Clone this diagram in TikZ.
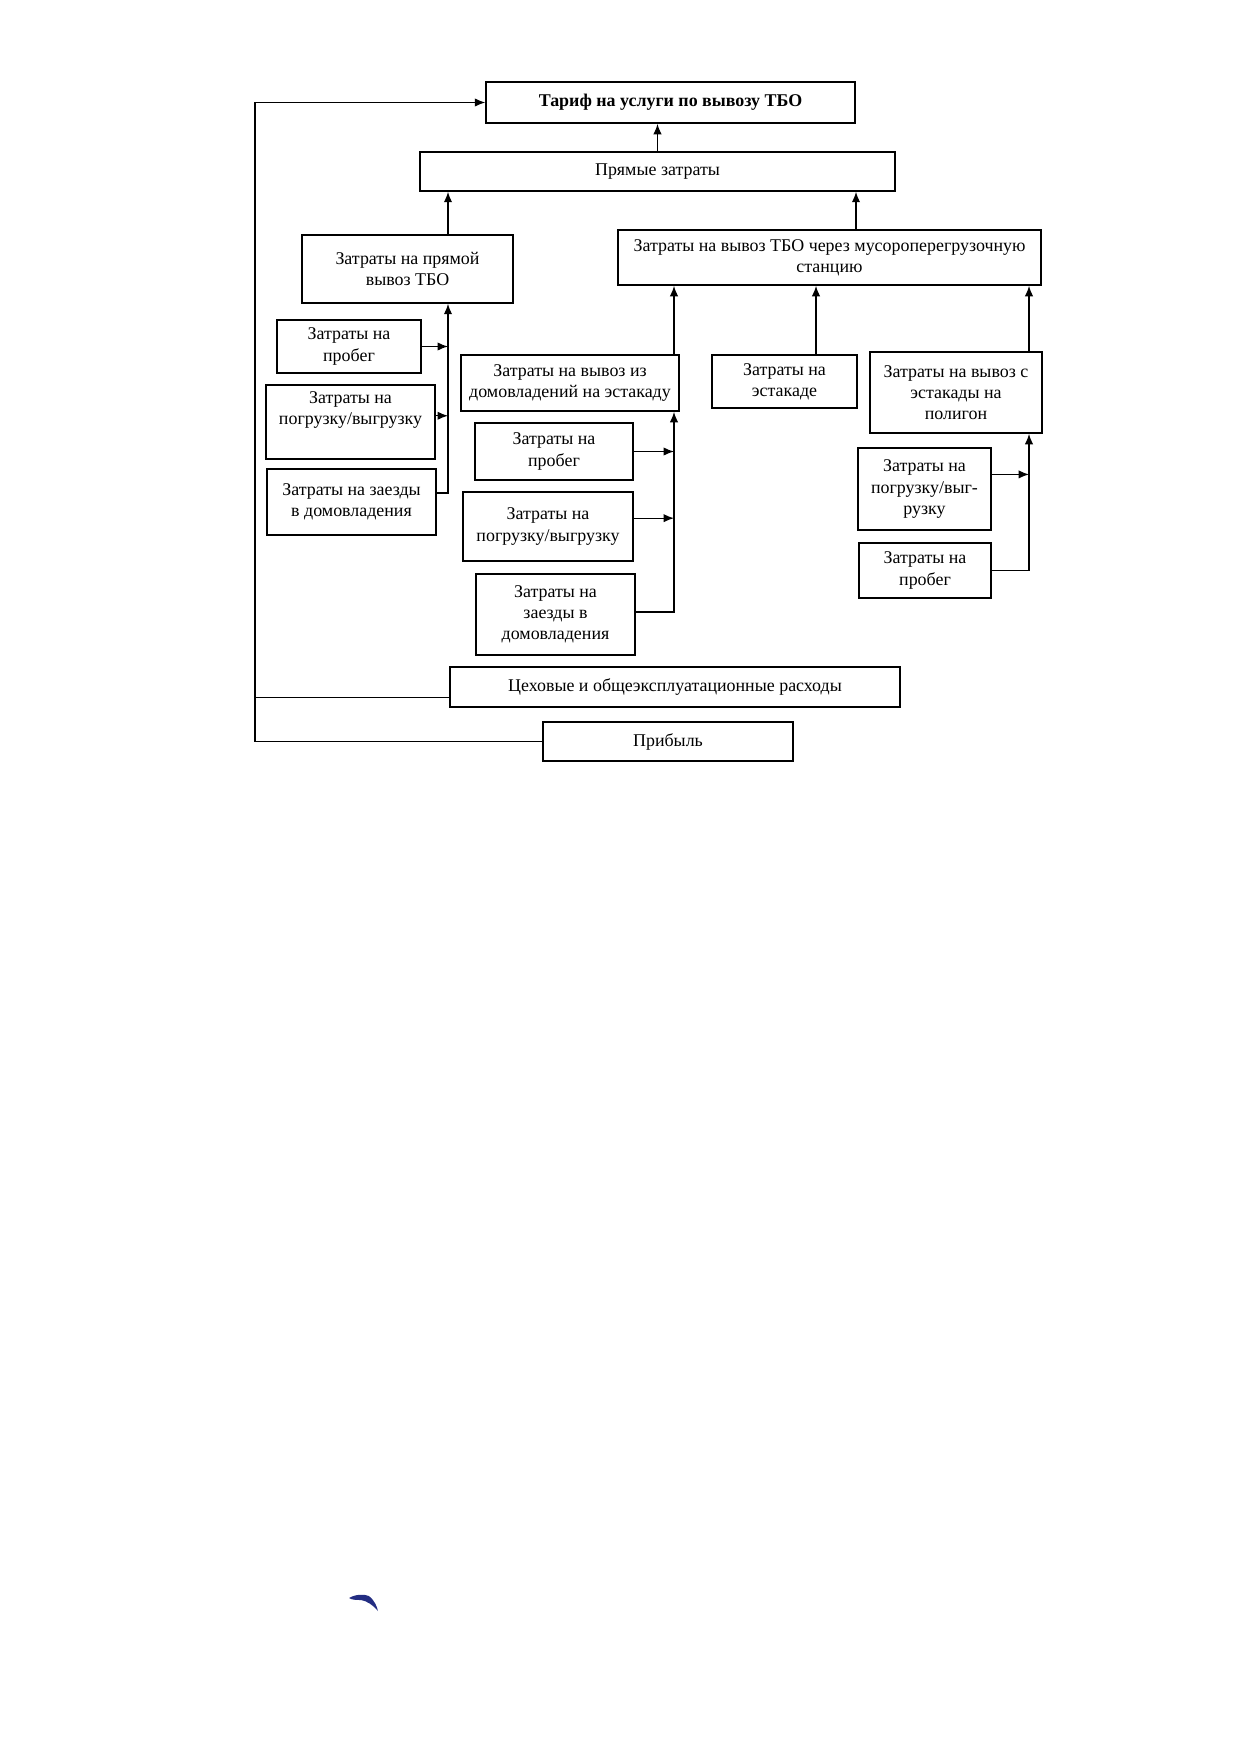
\documentclass[tikz,border=0pt]{standalone}
\usepackage{fontspec}
\setmainfont{Liberation Serif}
\usepackage{tikz}
\usetikzlibrary{calc,arrows,arrows.meta}
\definecolor{inkblue}{RGB}{35,45,130}

\begin{document}
\begin{tikzpicture}
  [
    x=0.48pt, y=-0.48pt,
    blk/.style={draw, line width=0.8pt, inner sep=2pt, align=center,
      font=\fontsize{8.6}{10.2}\selectfont},
    lnk/.style={line width=0.6pt},
    arr/.style={lnk, -{Latex[length=5pt, width=4pt]}}
  ]
    \path[use as bounding box] (0,0) rectangle (1239,1752);
    % upper levels
    \node[blk, minimum width=177pt, minimum height=19.7pt,
      font=\fontsize{8.6}{10.2}\selectfont\bfseries] (tarif) at (670.5,102.5) {Тариф на услуги по вывозу ТБО};
    \node[blk, minimum width=228pt, minimum height=18.7pt] (pryam) at (657.5,171.5) {Прямые затраты};
    \node[blk, minimum width=101.3pt, minimum height=32.6pt] (direct) at (407.5,269) {Затраты на прямой\\вывоз ТБО};
    \node[blk, minimum width=203pt, minimum height=26.4pt] (station) at (829.5,257.5) {Затраты на вывоз ТБО через мусороперегрузочную\\станцию};
    % left column
    \node[blk, minimum width=69.1pt, minimum height=25.4pt] (lprobeg) at (349,346.5) {Затраты на\\пробег};
    \node[blk, minimum width=81.1pt, minimum height=35.5pt] (lpogr) at (350.5,422) {Затраты на\\погрузку/выгрузку\\[3pt]};
    \node[blk, minimum width=81.1pt, minimum height=31.7pt] (lzaezd) at (351.5,502) {Затраты на заезды\\в домовладения};
    % station parts
    \node[blk, minimum width=104.6pt, minimum height=26.9pt] (estiz) at (570,383) {Затраты на вывоз из\\домовладений на эстакаду};
    \node[blk, minimum width=69.6pt, minimum height=25.4pt] (estna) at (784.5,381.5) {Затраты на\\эстакаде};
    \node[blk, minimum width=82.6pt, minimum height=38.9pt] (poligon) at (956,392.5) {Затраты на вывоз с\\эстакады на\\полигон};
    % middle column
    \node[blk, minimum width=75.8pt, minimum height=27.4pt] (mprobeg) at (554,451.5) {Затраты на\\пробег};
    \node[blk, minimum width=81.6pt, minimum height=33.1pt] (mpogr) at (548,526.5) {Затраты на\\погрузку/выгрузку};
    \node[blk, minimum width=76.3pt, minimum height=38.9pt] (mzaezd) at (555.5,614.5) {Затраты на\\заезды в\\домовладения};
    % right column
    \node[blk, minimum width=63.8pt, minimum height=39.4pt] (rpogr) at (924.5,489) {Затраты на\\погрузку/выг-\\рузку};
    \node[blk, minimum width=63.4pt, minimum height=26.4pt] (rprobeg) at (925,570.5) {Затраты на\\пробег};
    % bottom
    \node[blk, minimum width=216pt, minimum height=19.2pt] (ceh) at (675,687) {Цеховые и общеэксплуатационные расходы};
    \node[blk, minimum width=120pt, minimum height=18.7pt] (pribyl) at (668,741.5) {Прибыль};

    % buses
    \coordinate (bus) at (255,741);
    \coordinate (lbus) at (448,493);
    \coordinate (mbus) at (674,612);
    \coordinate (rbus) at (1029,570);
    \coordinate (sbus) at (856,0);
    \coordinate (nbus) at (816,0);

    \draw[arr] (pryam.north) -- (pryam.north |- tarif.south);
    \draw[arr] (direct.north -| lbus) -- (pryam.south -| lbus);
    \draw[arr] (station.north -| sbus) -- (pryam.south -| sbus);
    \draw[arr] (estiz.north -| mbus) -- (station.south -| mbus);
    \draw[arr] (estna.north -| nbus) -- (station.south -| nbus);
    \draw[arr] (poligon.north -| rbus) -- (station.south -| rbus);

    \draw[arr] (lzaezd.east |- lbus) -- (lbus) -- (direct.south -| lbus);
    \draw[arr] (lprobeg.east) -- (lprobeg.east -| lbus);
    \draw[arr] ([yshift=3pt]lpogr.east) -- ([yshift=3pt]lpogr.east -| lbus);

    \draw[arr] (mzaezd.east |- mbus) -- (mbus) -- (estiz.south -| mbus);
    \draw[arr] (mprobeg.east) -- (mprobeg.east -| mbus);
    \draw[arr] ([yshift=4pt]mpogr.east) -- ([yshift=4pt]mpogr.east -| mbus);

    \draw[arr] (rprobeg.east) -- (rprobeg.east -| rbus) -- (poligon.south -| rbus);
    \draw[arr] ([yshift=7pt]rpogr.east) -- ([yshift=7pt]rpogr.east -| rbus);

    \draw[arr] (pribyl.west) -- (pribyl.west -| bus) -- (bus |- tarif.west) -- (tarif.west);
    \draw[lnk] ([yshift=-5pt]ceh.west) -- ([yshift=-5pt]ceh.west -| bus);

    % blue mark
    \fill[inkblue] (349,1598) .. controls (356,1594) and (364,1594) .. (369,1596)
      .. controls (374,1600) and (377,1606) .. (378,1611)
      .. controls (373,1605) and (367,1601) .. (361,1600)
      .. controls (357,1600) and (352,1600) .. (349,1598) -- cycle;
  \end{tikzpicture}
\end{document}
